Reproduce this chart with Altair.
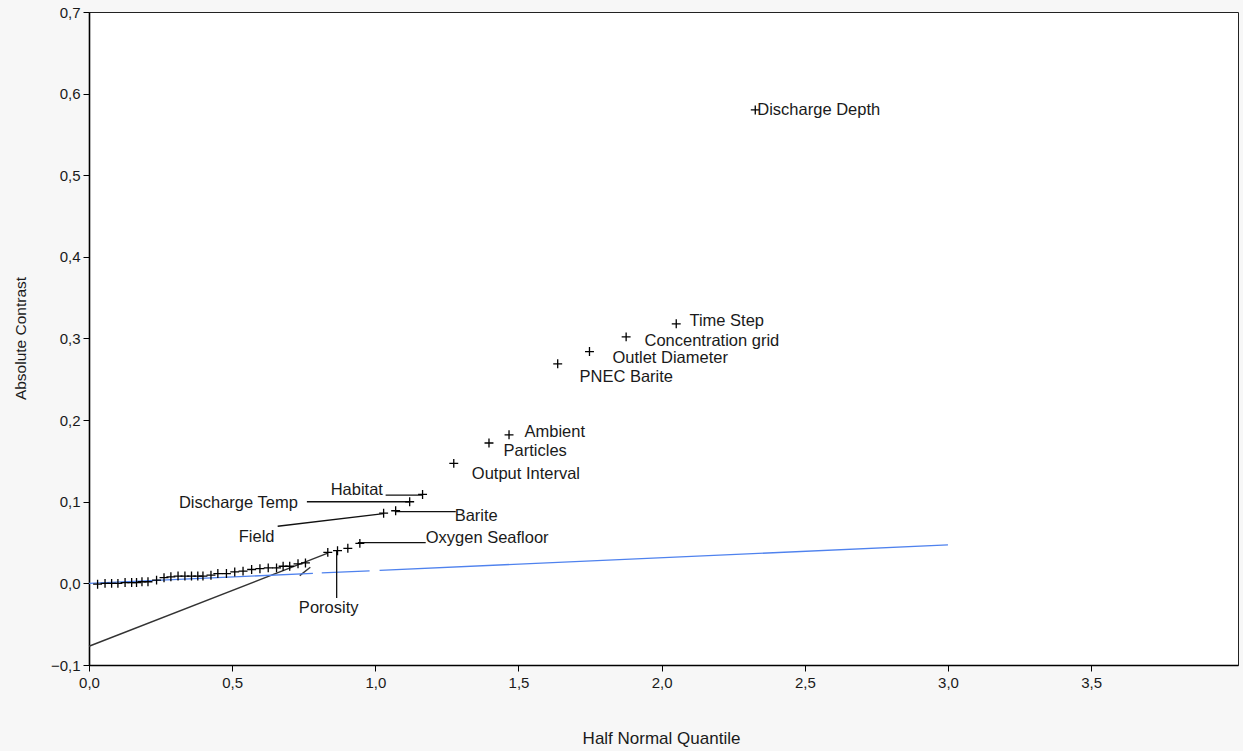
import altair as alt
import pandas as pd

# ---- data ----
pt_x = [0.030, 0.056, 0.079, 0.101, 0.126, 0.149, 0.166, 0.185, 0.206, 0.236,
        0.262, 0.286, 0.311, 0.335, 0.358, 0.380, 0.398, 0.426, 0.450, 0.480,
        0.509, 0.538, 0.568, 0.597, 0.626, 0.655, 0.678, 0.701, 0.730, 0.756,
        0.834, 0.868, 0.904, 0.946, 1.029, 1.071, 1.120, 1.165, 1.274, 1.397,
        1.467, 1.637, 1.748, 1.876, 2.051, 2.327]
pt_y = [-0.001, 0.000, 0.000, 0.000, 0.001, 0.001, 0.001, 0.002, 0.002, 0.004,
        0.007, 0.008, 0.009, 0.009, 0.009, 0.009, 0.009, 0.010, 0.012, 0.012,
        0.014, 0.015, 0.017, 0.018, 0.019, 0.019, 0.021, 0.021, 0.024, 0.025,
        0.038, 0.040, 0.043, 0.049, 0.086, 0.089, 0.100, 0.109, 0.147, 0.172,
        0.182, 0.269, 0.284, 0.302, 0.318, 0.580]

lab_text = ["Discharge Depth", "Time Step", "Concentration grid", "Outlet Diameter",
            "PNEC Barite", "Ambient", "Particles", "Output Interval", "Habitat",
            "Discharge Temp", "Field", "Barite", "Oxygen Seafloor", "Porosity"]
lab_x = [2.334, 2.097, 1.940, 1.828, 1.713, 1.521, 1.448, 1.337, 0.844,
         0.314, 0.523, 1.277, 1.176, 0.733]
lab_y = [0.580, 0.3215, 0.2975, 0.2765, 0.253, 0.186, 0.162, 0.134, 0.115,
         0.099, 0.057, 0.083, 0.055, -0.030]

# leader lines (label -> point)
ld_x = [1.036, 0.761, 0.659, 1.068, 0.939, 0.865]
ld_y = [0.108, 0.100, 0.070, 0.088, 0.050, 0.040]
ld_x2 = [1.165, 1.120, 1.029, 1.281, 1.176, 0.865]
ld_y2 = [0.108, 0.100, 0.0854, 0.088, 0.050, -0.018]

# blue reference line (drawn in pieces, as in the picture)
blue_seg = ["a", "a", "b", "b", "c", "c"]
blue_x = [0.0, 0.782, 0.813, 0.980, 1.015, 3.0]
blue_y = [0.0, 0.0123, 0.0128, 0.0154, 0.0160, 0.0471]

# grey fitted line and short grey stroke
grey_seg = ["a", "a", "b", "b"]
grey_x = [0.0, 0.834, 0.736, 0.773]
grey_y = [-0.077, 0.037, 0.0095, 0.0197]

x_ticks = [0.0, 0.5, 1.0, 1.5, 2.0, 2.5, 3.0, 3.5]
y_ticks = [-0.1, 0.0, 0.1, 0.2, 0.3, 0.4, 0.5, 0.6, 0.7]

pts = pd.DataFrame({"x": pt_x, "y": pt_y})
labs = pd.DataFrame({"x": lab_x, "y": lab_y, "t": lab_text})
leads = pd.DataFrame({"x": ld_x, "y": ld_y, "x2": ld_x2, "y2": ld_y2})
blue = pd.DataFrame({"x": blue_x, "y": blue_y, "s": blue_seg})
grey = pd.DataFrame({"x": grey_x, "y": grey_y, "s": grey_seg})

W, H = 1149, 653
FONT = "Liberation Sans, Arial, sans-serif"
fmt = "replace(format(datum.value, '.1f'), '.', ',')"
xs = alt.Scale(domain=[0, 4.013], nice=False, zero=False)
ys = alt.Scale(domain=[-0.1, 0.7], nice=False, zero=False)

xax = alt.Axis(values=x_ticks, labelExpr=fmt, title="Half Normal Quantile",
               grid=False, tickSize=6, labelPadding=4, labelFlush=False,
               titleX=572, titleY=73, titleFontSize=17,
               titleBaseline="middle", titleAlign="center")
yax = alt.Axis(values=y_ticks, labelExpr=fmt, title="Absolute Contrast",
               grid=False, tickSize=6, labelPadding=3, labelFlush=False,
               titleX=-69, titleY=326, titleFontSize=15.5,
               titleAngle=270, titleBaseline="middle", titleAlign="center")

base_x = alt.X("x:Q", scale=xs, axis=xax)
base_y = alt.Y("y:Q", scale=ys, axis=yax)

grey_line = alt.Chart(grey).mark_line(color="#333333", strokeWidth=1.4).encode(
    x=base_x, y=base_y, detail="s:N")
blue_line = alt.Chart(blue).mark_line(color="#4f82ee", strokeWidth=1.3).encode(
    x="x:Q", y="y:Q", detail="s:N")
leader = alt.Chart(leads).mark_rule(color="#111111", strokeWidth=1.3).encode(
    x="x:Q", y="y:Q", x2="x2:Q", y2="y2:Q")
points = alt.Chart(pts).mark_point(
    shape="M -1 0 L 1 0 M 0 -1 L 0 1", filled=False, color="#000000",
    strokeWidth=1.3, size=80, opacity=1).encode(x="x:Q", y="y:Q")
labels = alt.Chart(labs).mark_text(
    align="left", baseline="middle", font=FONT,
    fontSize=16.5, color="#1a1a1a").encode(x="x:Q", y="y:Q", text="t:N")

chart = alt.layer(grey_line, blue_line, leader, points, labels).properties(
    width=W, height=H,
    autosize=alt.AutoSizeParams(type="none"),
    padding={"left": 89, "top": 12, "right": 5, "bottom": 86},
    background="#f7f7f7",
).configure_view(
    fill="#ffffff", stroke="#222222", strokeWidth=1
).configure_axis(
    domainColor="#000000", domainWidth=1.6, tickColor="#000000", tickWidth=1,
    labelFont=FONT, labelFontSize=15, labelColor="#1a1a1a",
    titleFont=FONT, titleFontWeight="normal", titleColor="#1a1a1a"
)

chart.save("out.html", embed_options={"renderer": "svg", "actions": False})
